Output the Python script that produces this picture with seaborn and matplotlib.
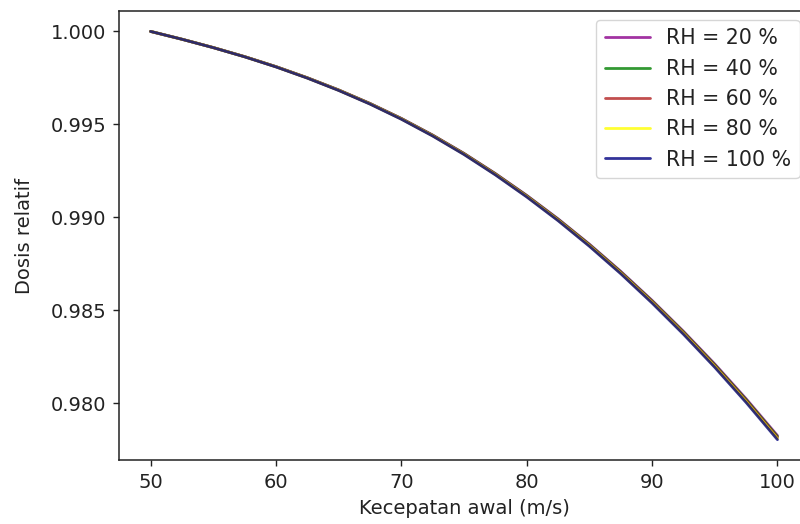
import matplotlib
matplotlib.use('Agg')
import matplotlib.pyplot as plt
import seaborn as sns

# kecepatan awal (m/s)
kecepatan = [50, 52.5, 55, 57.5, 60, 62.5, 65, 67.5, 70, 72.5, 75,
             77.5, 80, 82.5, 85, 87.5, 90, 92.5, 95, 97.5, 100]

# dosis relatif untuk tiap kelembapan (RH)
rh20 = [1.0, 0.999582, 0.999134, 0.998646, 0.998110, 0.997512, 0.996856, 0.996130, 0.995324, 0.994428, 0.993442,
        0.992358, 0.991184, 0.989920, 0.988558, 0.987094, 0.985532, 0.983870, 0.982110, 0.980240, 0.978260]
rh40 = [1.0, 0.999581, 0.999132, 0.998643, 0.998105, 0.997506, 0.996848, 0.996120, 0.995312, 0.994414, 0.993426,
        0.992339, 0.991162, 0.989895, 0.988529, 0.987062, 0.985496, 0.983830, 0.982065, 0.980190, 0.978205]
rh60 = [1.0, 0.999580, 0.999130, 0.998640, 0.998100, 0.997500, 0.996840, 0.996110, 0.995300, 0.994400, 0.993410,
        0.992320, 0.991140, 0.989870, 0.988500, 0.987030, 0.985460, 0.983790, 0.982020, 0.980140, 0.978150]
rh80 = [1.0, 0.999579, 0.999128, 0.998637, 0.998095, 0.997494, 0.996832, 0.996100, 0.995288, 0.994386, 0.993394,
        0.992301, 0.991118, 0.989845, 0.988471, 0.986998, 0.985424, 0.983750, 0.981975, 0.980090, 0.978095]
rh100 = [1.0, 0.999578, 0.999126, 0.998634, 0.998090, 0.997488, 0.996824, 0.996090, 0.995276, 0.994372, 0.993378,
         0.992282, 0.991096, 0.989820, 0.988442, 0.986966, 0.985388, 0.983710, 0.981930, 0.980040, 0.978040]

label = ['RH = 20 %', 'RH = 40 %', 'RH = 60 %', 'RH = 80 %', 'RH = 100 %']
warna = ['darkmagenta', 'green', 'firebrick', 'yellow', 'navy']

sns.set_style('ticks')
plt.rcParams['font.family'] = ['DejaVu Sans']
plt.rcParams['text.color'] = '#222222'
plt.rcParams['axes.labelcolor'] = '#222222'
plt.rcParams['xtick.color'] = '#222222'
plt.rcParams['ytick.color'] = '#222222'
plt.rcParams['axes.edgecolor'] = '#222222'

fs = 14
fig = plt.figure(figsize=(8, 5.24), dpi=100)
ax = fig.add_axes([0.149, 0.122, 0.862, 0.857])

for y, lab, c in zip([rh20, rh40, rh60, rh80, rh100], label, warna):
    sns.lineplot(x=kecepatan, y=y, color=c, alpha=0.8, linewidth=2.0, label=lab, ax=ax)

ax.set_xlabel('Kecepatan awal (m/s)', fontsize=fs, labelpad=5)
ax.set_ylabel('Dosis relatif', fontsize=fs, labelpad=12)
ax.tick_params(labelsize=fs, length=4.5, width=1.0, pad=4.5)
for sp in ax.spines.values():
    sp.set_linewidth(1.1)
ax.set_yticks([0.980, 0.985, 0.990, 0.995, 1.000])
ax.set_xticks([50, 60, 70, 80, 90, 100])
ax.legend(loc='upper right', fontsize=14.8, frameon=True, handlelength=2.2,
          borderaxespad=0.45)

fig.savefig('out.png', dpi=100)
